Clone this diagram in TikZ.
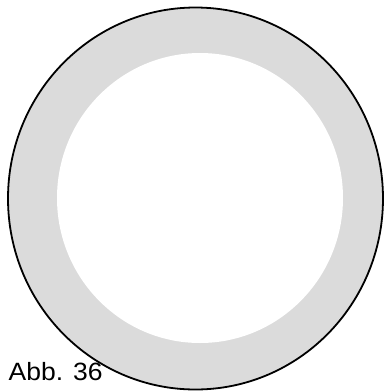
\documentclass[tikz,border=0pt]{standalone}
\usepackage{fontspec}
\setmainfont{Liberation Sans}
\begin{document}
\begin{tikzpicture}[x=1pt,y=-1pt,
  ringfill/.style={fill=black!14},
  outline/.style={draw=black,line width=1.8pt},
  caption/.style={anchor=base west,inner sep=0pt,font=\fontsize{25}{28}\selectfont,xscale=1.06}]
\useasboundingbox (0,0) rectangle (384,392);
\fill[white] (0,0) rectangle (384,392);
\coordinate (oc) at (195.5,198.5);
\coordinate (ic) at (200,198);
\fill[ringfill] (oc) ellipse [x radius=187.5,y radius=191];
\fill[white] (ic) ellipse [x radius=143,y radius=145];
\draw[outline] (oc) ellipse [x radius=187.5,y radius=191];
\node[caption] (cap) at (8.5,380.5) {Abb. 36};
\end{tikzpicture}
\end{document}
